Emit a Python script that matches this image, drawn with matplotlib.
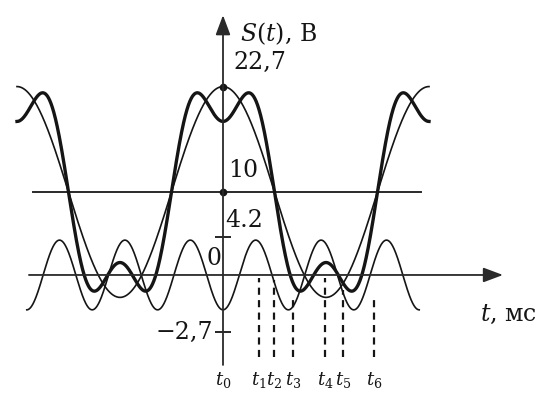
import numpy as np
import matplotlib.pyplot as plt

plt.rcParams['font.family'] = ['DejaVu Serif']
plt.rcParams['mathtext.fontset'] = 'custom'
plt.rcParams['mathtext.rm'] = 'DejaVu Serif'
plt.rcParams['mathtext.it'] = 'DejaVu Serif:italic'

# signal components (t in periods of the fundamental, S in volts)
dc = 10.0
a1 = 12.7
a3 = 4.2
harm_ratio_drawn = 3.15     # the 3rd harmonic as drawn in the figure
harm_cycles = 3             # drawn cycles on each side of t = 0

# sample instants t1..t6 and where their dashed guides start
t_marks = [0.175, 0.248, 0.340, 0.495, 0.583, 0.733]
t_mark_tops = [-0.36, -0.6, -2.65, -0.36, -1.8, -2.4]
t_mark_bottom = -9.9
t_names = ['$t_0$', '$t_1$', '$t_2$', '$t_3$', '$t_4$', '$t_5$', '$t_6$']

# y-axis marks as placed in the figure
ytick_pos = [4.58, -6.87]

ink = '#151515'

fig = plt.figure(figsize=(5.42, 3.94), dpi=100)
ax = fig.add_axes([0, 0, 1, 1])
ax.set_xlim(-1.0825, 1.5485)
ax.set_ylim(-14.34, 33.13)
ax.axis('off')

# axes with arrows
arrow = dict(arrowstyle='-|>,head_length=0.8,head_width=0.3', lw=1.3,
             color='#2a2a2a', mutation_scale=15, shrinkA=0, shrinkB=0)
ax.annotate('', xy=(1.359, 0), xytext=(-0.942, 0), arrowprops=arrow)
ax.annotate('', xy=(0, 31.3), xytext=(0, -10.84), arrowprops=arrow)

t = np.linspace(-1, 1, 1200)
first = dc + a1 * np.cos(2 * np.pi * t)
total = first - a3 * np.cos(6 * np.pi * t)

th = np.linspace(-harm_cycles / harm_ratio_drawn, harm_cycles / harm_ratio_drawn, 1200)
harm = -a3 * np.cos(2 * np.pi * harm_ratio_drawn * th)

ax.plot([-0.922, 0.961], [dc, dc], color='#2a2a2a', lw=1.4)
ax.plot(th, harm, color=ink, lw=1.2)
ax.plot(t, first, color=ink, lw=1.2)
ax.plot(t, total, color=ink, lw=2.4)

ax.plot([0, 0], [dc, dc + a1], 'o', color=ink, ms=4.5)
ax.plot([0] * len(ytick_pos), ytick_pos, '_', color=ink, ms=12, mew=1.3)

ax.vlines(t_marks, t_mark_bottom, t_mark_tops, colors=ink, lw=1.6,
          linestyles=(0, (3.2, 2.4)))

fs = 17
ax.text(0.083, 29.1, '$S(t)$, В', fontsize=fs, va='center', ha='left', color=ink)
ax.text(0.05, 25.6, '22,7', fontsize=fs, va='center', ha='left', color=ink)
ax.text(0.025, 12.6, '10', fontsize=fs, va='center', ha='left', color=ink)
ax.text(0.01, 6.6, '4.2', fontsize=fs, va='center', ha='left', color=ink)
ax.text(-0.043, 2.0, '0', fontsize=fs, va='center', ha='center', color=ink)
ax.text(-0.05, -6.9, '−2,7', fontsize=fs, va='center', ha='right', color=ink)
ax.text(1.248, -4.7, '$t$, мс', fontsize=fs, va='center', ha='left', color=ink)

for x, name in zip([0.0] + t_marks, t_names):
    ax.text(x, -12.7, name, fontsize=13, va='center', ha='center', color=ink)

fig.savefig('out.png', dpi=100)
